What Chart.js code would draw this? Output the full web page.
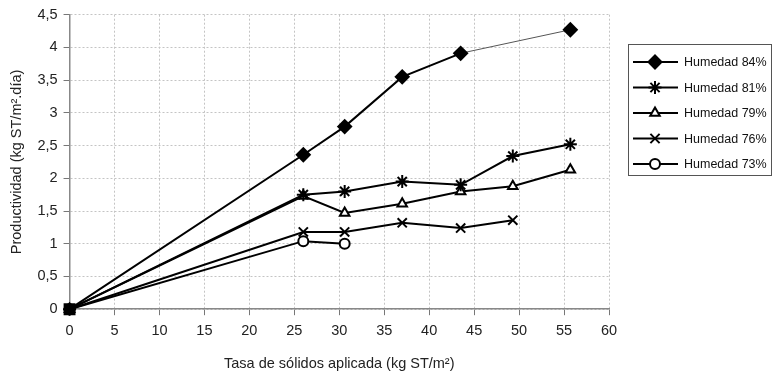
<!DOCTYPE html>
<html>
<head>
<meta charset="utf-8">
<script src="https://cdn.jsdelivr.net/npm/chart.js@4/dist/chart.umd.min.js"></script>
<style>
  html, body { margin: 0; padding: 0; background: #fff; }
  #wrap { width: 774px; height: 374px; position: relative; }
</style>
</head>
<body>
<div id="wrap"><canvas id="chart"></canvas></div>
<script>
  // tasa de sólidos aplicada (kg ST/m2) and productividad per humedad
  const x84 = [0, 26, 30.6, 37, 43.5, 55.7];
  const y84 = [0, 2.36, 2.79, 3.55, 3.91, 4.27];
  const x81 = [0, 26, 30.6, 37, 43.5, 49.3, 55.7];
  const y81 = [0, 1.75, 1.8, 1.95, 1.9, 2.34, 2.52];
  const x79 = [0, 26, 30.6, 37, 43.5, 49.3, 55.7];
  const y79 = [0, 1.73, 1.47, 1.61, 1.8, 1.88, 2.13];
  const x76 = [0, 26, 30.6, 37, 43.5, 49.3];
  const y76 = [0, 1.18, 1.18, 1.32, 1.24, 1.36];
  const x73 = [0, 26, 30.6];
  const y73 = [0, 1.04, 1.0];

  const labels = ["Humedad 84%", "Humedad 81%", "Humedad 79%", "Humedad 76%", "Humedad 73%"];
  const font = "'Liberation Sans', Arial, sans-serif";

  const styles = [
    { pointStyle: "rectRot", radius: 6.5, fill: "#000" },
    { pointStyle: "star", radius: 6.5, fill: "#000" },
    { pointStyle: "triangle", radius: 5.5, fill: "#fff" },
    { pointStyle: "crossRot", radius: 6.5, fill: "#000" },
    { pointStyle: "circle", radius: 5, fill: "#fff" },
  ];

  function pts(xs, ys) {
    return xs.map((x, i) => ({ x, y: ys[i] }));
  }

  function makeSet(i, data, extra = {}) {
    const s = styles[i];
    return {
      label: labels[i],
      data,
      borderColor: "#000",
      borderWidth: 2,
      pointStyle: s.pointStyle,
      pointRadius: s.radius,
      pointBackgroundColor: s.fill,
      pointBorderColor: "#000",
      pointBorderWidth: 2,
      clip: false,
      ...extra,
    };
  }

  const last84 = x84.length - 1;
  const datasets = [
    makeSet(0, pts(x84, y84), {
      // origin shown as a solid square, last stretch as a thin line
      pointStyle: x84.map((_, i) => (i === 0 ? "rect" : "rectRot")),
      pointRadius: x84.map((_, i) => (i === 0 ? 7 : 6.5)),
      segment: {
        borderWidth: (c) => (c.p1DataIndex === last84 ? 1 : 2),
        borderColor: (c) => (c.p1DataIndex === last84 ? "#555" : "#000"),
      },
    }),
    makeSet(1, pts(x81, y81)),
    makeSet(2, pts(x79, y79)),
    makeSet(3, pts(x76, y76)),
    makeSet(4, pts(x73, y73)),
  ];

  // boxed legend on the right, line through marker
  const boxLegend = {
    id: "boxLegend",
    afterDraw(chart) {
      const ctx = chart.ctx;
      const left = 628, top = 44, w = 143, h = 131;
      ctx.save();
      ctx.strokeStyle = "#555";
      ctx.lineWidth = 1;
      ctx.strokeRect(left + 0.5, top + 0.5, w, h);
      labels.forEach((txt, i) => {
        const y = 62 + i * 25.5;
        const s = styles[i];
        ctx.strokeStyle = "#000";
        ctx.lineWidth = 2;
        ctx.beginPath();
        ctx.moveTo(633, y);
        ctx.lineTo(678, y);
        ctx.stroke();
        ctx.fillStyle = s.fill;
        ctx.strokeStyle = "#000";
        ctx.lineWidth = 2;
        Chart.helpers.drawPoint(ctx, { pointStyle: s.pointStyle, radius: s.radius, borderWidth: 2, rotation: 0 }, 655, y);
        ctx.fillStyle = "#111";
        ctx.font = "12.5px " + font;
        ctx.textBaseline = "middle";
        ctx.textAlign = "left";
        ctx.fillText(txt, 684, y + 1);
      });
      ctx.restore();
    },
  };

  new Chart(document.getElementById("chart"), {
    type: "line",
    data: { datasets },
    plugins: [boxLegend],
    options: {
      responsive: true,
      maintainAspectRatio: false,
      animation: false,
      layout: { padding: { left: 8, right: 165, top: 13, bottom: 1 } },
      plugins: { legend: { display: false }, tooltip: { enabled: false } },
      scales: {
        x: {
          type: "linear",
          min: 0,
          max: 60,
          ticks: { stepSize: 5, color: "#222", font: { family: font, size: 14.5 }, padding: 7, maxRotation: 0 },
          grid: { color: "#c4c4c4", tickColor: "#777", tickLength: 6, tickBorderDash: [] },
          border: { color: "#888", width: 1.5, dash: [2, 2] },
          title: {
            display: true,
            text: "Tasa de sólidos aplicada (kg ST/m²)",
            color: "#222",
            font: { family: font, size: 14.5 },
            padding: { top: 9, bottom: 0 },
          },
        },
        y: {
          min: 0,
          max: 4.5,
          ticks: {
            stepSize: 0.5,
            color: "#222",
            font: { family: font, size: 14.5 },
            padding: 6,
            callback: (v) => String(v).replace(".", ","),
          },
          grid: { color: "#c4c4c4", tickColor: "#777", tickLength: 6, tickBorderDash: [] },
          border: { color: "#888", width: 1.5, dash: [2, 2] },
          title: {
            display: true,
            text: "Productividad (kg ST/m².día)",
            color: "#222",
            font: { family: font, size: 14.5 },
            padding: { top: 0, bottom: 6 },
          },
        },
      },
    },
  });
</script>
</body>
</html>
